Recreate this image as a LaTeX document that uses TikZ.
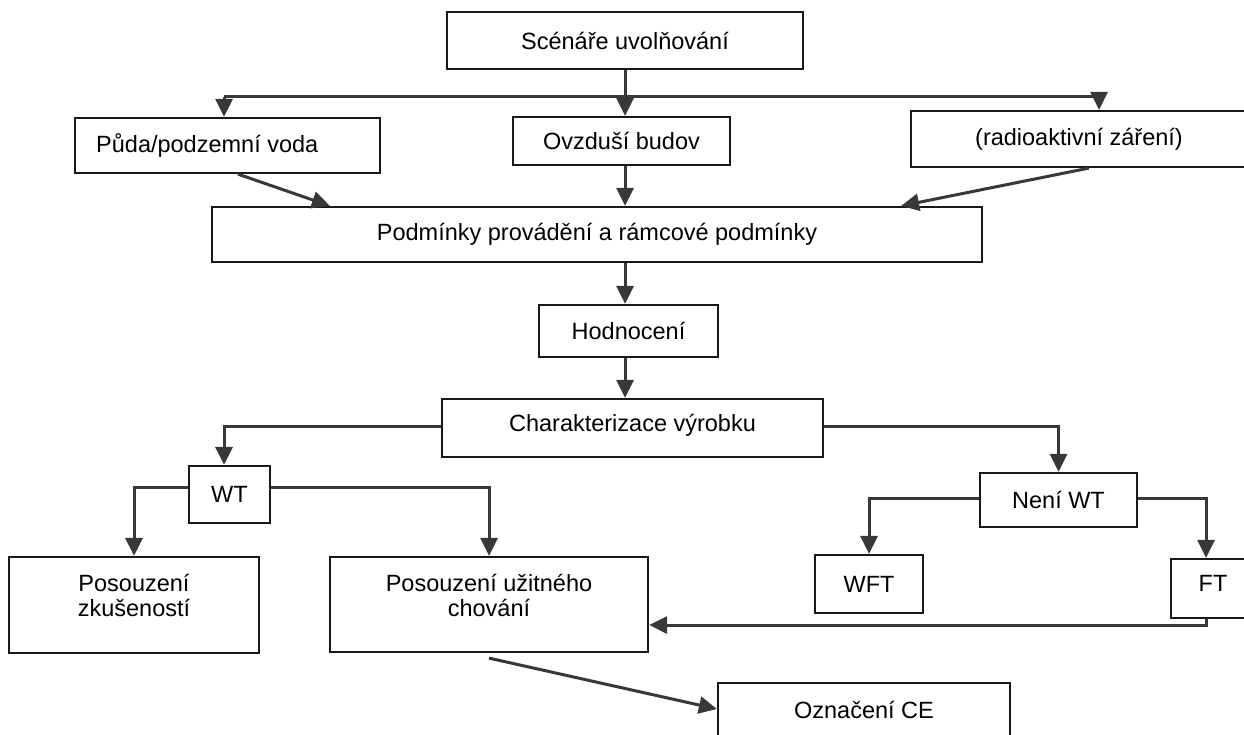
\documentclass[tikz,border=0pt]{standalone}
\usepackage{fontspec}
\setmainfont{Liberation Sans}
\usetikzlibrary{arrows.meta}
\begin{document}
\begin{tikzpicture}[x=1pt,y=-1pt,
  box/.style={draw=black!90,line width=2.2pt,inner sep=0pt,align=center,font=\fontsize{23.5}{25}\selectfont},
  txt/.style={inner sep=0pt,align=center,font=\fontsize{23.5}{25}\selectfont},
  line/.style={draw=black!78,line width=3pt},
  conn/.style={line,-{Triangle[length=18pt,width=17pt]}}]
\useasboundingbox (0,0) rectangle (1244,735);
\clip (0,0) rectangle (1244,735);
% boxes
\node[box,minimum width=356,minimum height=57] (s) at (625,40.5) {Scénáře uvolňování};
\node[box,minimum width=305,minimum height=55] (pu) at (227.5,145.5) {};
\node[txt,anchor=west] (put) at (96,145) {Půda/podzemní voda};
\node[box,minimum width=217,minimum height=48] (ov) at (621.5,141) {Ovzduší budov};
\node[box,minimum width=349,minimum height=56] (ra) at (1085.5,139) {};
\node[txt] (rat) at (1079,139) {(radioaktivní záření)};
\node[box,minimum width=770,minimum height=55] (pd) at (597,234.5) {Podmínky provádění a rámcové podmínky};
\node[box,minimum width=179,minimum height=52] (ho) at (628.5,331) {Hodnocení};
\node[box,minimum width=381,minimum height=58] (ch) at (632.5,428) {};
\node[txt] (cht) at (632.5,425) {Charakterizace výrobku};
\node[box,minimum width=81,minimum height=57] (wt) at (229.5,494.5) {WT};
\node[box,minimum width=157,minimum height=54] (nw) at (1058.5,500) {Není WT};
\node[box,minimum width=250,minimum height=96] (pz) at (134,605) {};
\node[txt] (pzt) at (134,595.5) {Posouzení\\zkušeností};
\node[box,minimum width=318,minimum height=95] (pv) at (489,604.5) {};
\node[txt] (pvt) at (489,595.5) {Posouzení užitného\\chování};
\node[box,minimum width=108,minimum height=58] (wft) at (869,584) {WFT};
\node[box,minimum width=89,minimum height=59] (ft) at (1215.5,588.5) {};
\node[txt] (ftt) at (1213,583) {FT};
\node[box,minimum width=292,minimum height=67] (ce) at (864,716.5) {};
\node[txt] (cet) at (864,710) {Označení CE};
% branch coordinates
\coordinate (j) at (625,97);
\coordinate (jl) at (224,97);
\coordinate (jr) at (1099,97);
% connectors
\draw[line] (s.south) -- (j);
\draw[line] (jl) -- (jr);
\draw[conn] (jl) -- (jl |- pu.north);
\draw[conn] (j) -- (j |- ov.north);
\draw[conn] (jr) -- (jr |- ra.north);
\draw[conn] ([xshift=164pt]pu.south west) -- ([xshift=119pt]pd.north west);
\draw[conn] (j |- ov.south) -- (j |- pd.north);
\draw[conn] ([xshift=179pt]ra.south west) -- ([xshift=-82pt]pd.north east);
\draw[conn] (j |- pd.south) -- (j |- ho.north);
\draw[conn] (j |- ho.south) -- (j |- ch.north);
\draw[conn] ([yshift=2pt]ch.west) -| (jl |- wt.north);
\draw[conn] ([yshift=2pt]ch.east) -| (nw.north);
\draw[conn] ([yshift=7pt]wt.west) -| (pz.north);
\draw[conn] ([yshift=7pt]wt.east) -| (pv.north);
\draw[conn] ([yshift=2pt]nw.west) -| (wft.north);
\draw[conn] ([yshift=2pt]nw.east) -| ([xshift=-9.5pt]ft.north);
\draw[conn] ([xshift=-9.5pt]ft.south) |- ([yshift=-20.5pt]pv.east);
\draw[conn] ([yshift=-5pt]pv.south) -- ([yshift=7.5pt]ce.west);
\end{tikzpicture}
\end{document}
